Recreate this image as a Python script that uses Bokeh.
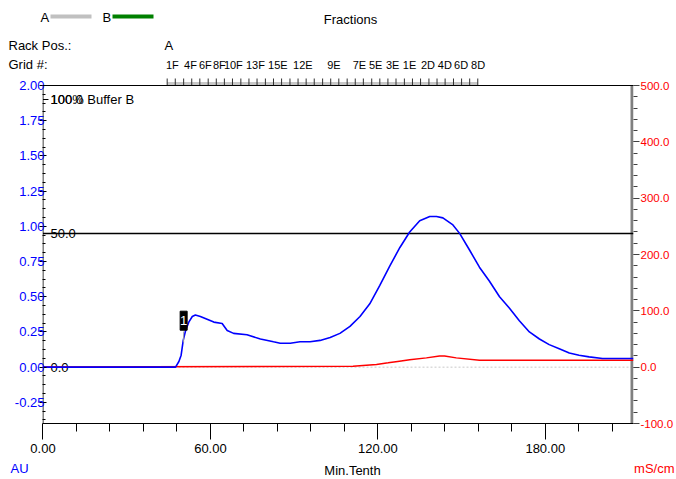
from bokeh.plotting import figure
from bokeh.layouts import column
from bokeh.models import Range1d, LinearAxis, FixedTicker, Span
from bokeh.core.properties import value
from bokeh.embed import file_html
from bokeh.resources import INLINE

# ---------------- data ----------------
uv_x = [0, 47.5, 48.7, 49.5, 50.25, 51.1, 52.25, 53.5, 54.6, 56.4, 58.8, 61.2, 64.2,
        66.0, 68.3, 73.1, 77.9, 82.6, 85.0, 88.6, 92.1, 95.7, 99.3, 102.9, 106.4,
        110.0, 113.6, 117.1, 120.7, 124.3, 127.9, 131.4, 135.0, 138.6, 141.0, 143.3,
        146.9, 149.3, 152.9, 156.4, 160.0, 163.6, 167.1, 170.7, 174.3, 177.9, 181.4,
        185.0, 188.6, 192.1, 195.7, 200.5, 211.6]
uv_au = [0.0, 0.0, 0.04, 0.085, 0.19, 0.26, 0.32, 0.36, 0.37, 0.36, 0.34, 0.32, 0.31,
         0.26, 0.24, 0.23, 0.20, 0.18, 0.17, 0.17, 0.18, 0.18, 0.19, 0.21, 0.24,
         0.29, 0.36, 0.45, 0.58, 0.72, 0.85, 0.96, 1.04, 1.07, 1.07, 1.06,
         1.01, 0.95, 0.83, 0.71, 0.61, 0.50, 0.42, 0.33, 0.25, 0.20, 0.16,
         0.13, 0.10, 0.085, 0.073, 0.062, 0.062]

cond_x = [0, 111.1, 119.5, 123.7, 127.1, 131.4, 137.4, 142.1, 143.9, 148.1, 156.4, 211.6]
cond_ms = [0.5, 1.8, 4.8, 7.7, 10.1, 13.0, 16.5, 20.0, 20.0, 16.5, 12.4, 12.4]

conc_x = [0, 211.6]
conc_b = [50, 50]

frac_bounds = [44.5, 47.4, 50.4, 53.3, 56.2, 59.2, 62.1, 65.0, 67.9, 70.9, 73.8, 76.7,
               79.7, 82.6, 85.5, 88.5, 91.4, 94.3, 97.2, 100.2, 103.1, 106.0, 109.0,
               111.9, 114.8, 117.8, 120.7, 123.6, 126.5, 129.5, 132.4, 135.3, 138.3,
               141.2, 144.1, 147.1, 150.0, 152.9, 155.8]
frac_label_x = [43.9, 50.4, 55.7, 60.7, 64.6, 72.5, 80.4, 89.3, 101.5, 110.6, 116.4,
                122.5, 128.5, 135.0, 141.0, 146.8, 152.9]
frac_labels = ["1F", "4F", "6F", "8F", "10F", "13F", "15E", "12E", "9E", "7E", "5E",
               "3E", "1E", "2D", "4D", "6D", "8D"]

peak_x = [50.4]
peak_au = [0.33]
peak_labels = ["1"]

x_ticks = [0, 60, 120, 180]
x_tick_labels = ["0.00", "60.00", "120.00", "180.00"]
left_ticks = [-0.25, 0.0, 0.25, 0.5, 0.75, 1.0, 1.25, 1.5, 1.75, 2.0]
left_tick_labels = ["-0.25", "0.00", "0.25", "0.50", "0.75", "1.00", "1.25", "1.50", "1.75", "2.00"]
right_ticks = [-100, 0, 100, 200, 300, 400, 500]
right_tick_labels = ["-100.0", "0.0", "100.0", "200.0", "300.0", "400.0", "500.0"]
conc_ticks = [0, 50, 100]
conc_tick_labels = ["0.0", "50.0", "100.0"]

# ---------------- layout ----------------
FONT = "Liberation Sans"
FS = "13px"
W = 676
TOP_H, MAIN_H, BOT_H = 72, 388, 19
FRAME_L, FRAME_R = 42, 635          # page px of main frame
FRAME_T, FRAME_B = 75, 423
PXX = 2.8                            # px per x unit
XS = -0.5 / PXX                      # x at page 42
XE = XS + (FRAME_R - FRAME_L) / PXX  # x at page 635
PXY = 338 / 2.4                      # px per AU (2.0 at page 85, -0.4 at 423)
CPX = 338 / 600.0                    # px per mS/cm
KPX = 2.68                           # px per %B (0 at 367, 100 at 99)


def X(px):      # page x -> data x
    return (px - 42.5) / PXX


def Y(py):      # page y -> AU
    return 2.0 - (py - 85) / PXY


def clean(f):
    f.outline_line_color = None
    f.xgrid.grid_line_color = None
    f.ygrid.grid_line_color = None
    f.background_fill_color = "white"
    f.border_fill_color = "white"


# ---------- top strip (page y 0..72, y data = page px) ----------
top = figure(width=W, height=TOP_H, output_backend="svg", toolbar_location=None,
             x_range=Range1d(X(0), X(W)), y_range=Range1d(TOP_H, 0),
             x_axis_location=None, y_axis_location=None, min_border=0,
             frame_align=False)
clean(top)


def ttext(f, px, py, text, color="black", align="left", size=FS):
    f.text(x=[X(px)], y=[py], text=[text], text_font=value(FONT), text_font_size=size,
           text_color=color, text_align=align, text_baseline="middle")


top.segment(x0=[X(50)], y0=[16], x1=[X(91)], y1=[16], line_color="#c0c0c0", line_width=4)
top.segment(x0=[X(112)], y0=[16], x1=[X(153)], y1=[16], line_color="#008000", line_width=4)
ttext(top, 40, 17, "A")
ttext(top, 102, 17, "B")
ttext(top, 350, 19, "Fractions", align="center")
ttext(top, 8, 45, "Rack Pos.:")
ttext(top, 164, 45, "A")
ttext(top, 8, 64, "Grid #:")
top.text(x=frac_label_x, y=[64] * len(frac_label_x), text=frac_labels,
         text_font=value(FONT), text_font_size="11px", text_color="black",
         text_align="left", text_baseline="middle")

# ---------- main chart ----------
p = figure(width=W, height=MAIN_H, output_backend="svg", toolbar_location=None,
           x_range=Range1d(XS, XE), y_range=Range1d(-0.4, Y(FRAME_T)),
           x_axis_location=None, y_axis_location=None,
           min_border_left=FRAME_L, min_border_right=W - FRAME_R,
           min_border_top=FRAME_T - TOP_H, min_border_bottom=TOP_H + MAIN_H - FRAME_B,
           frame_align=False)
clean(p)
p.extra_y_ranges = {
    "cond": Range1d(-100, 500 + (85 - FRAME_T) / CPX),
    "conc": Range1d(-(FRAME_B - 367) / KPX, 100 + (99 - FRAME_T) / KPX),
}

xa = LinearAxis(ticker=FixedTicker(ticks=x_ticks,
                                   minor_ticks=[12, 24, 36, 48, 72, 84, 96, 108, 132, 144, 156, 168, 192, 204]),
                major_label_overrides={t: l for t, l in zip(x_ticks, x_tick_labels)},
                major_tick_in=0, major_tick_out=16, minor_tick_in=0, minor_tick_out=8,
                major_label_standoff=4, major_label_text_font=FONT,
                major_label_text_font_size=FS, major_label_text_color="black",
                axis_line_color="black", major_tick_line_color="black",
                minor_tick_line_color="black")
p.add_layout(xa, "below")

ya = LinearAxis(ticker=FixedTicker(ticks=left_ticks,
                                   minor_ticks=[-0.375 + 0.0625 * i for i in range(39)]),
                major_label_overrides={t: l for t, l in zip(left_ticks, left_tick_labels)},
                major_label_standoff=-5, major_label_text_font=FONT,
                major_label_text_font_size=FS, major_label_text_color="#0000ff",
                axis_line_color=None,
                major_tick_in=4, major_tick_out=3, minor_tick_in=3, minor_tick_out=0,
                major_tick_line_color="black", minor_tick_line_color="black")
p.add_layout(ya, "left")

ra = LinearAxis(y_range_name="cond",
                ticker=FixedTicker(ticks=right_ticks,
                                   minor_ticks=[-100 + 20 * i for i in range(31)]),
                major_label_overrides={t: l for t, l in zip(right_ticks, right_tick_labels)},
                major_label_standoff=1, major_label_text_font=FONT,
                major_label_text_font_size="11.5px", major_label_text_color="#ff0000",
                axis_line_color=None,
                major_tick_in=0, major_tick_out=6, minor_tick_in=0, minor_tick_out=4,
                major_tick_line_color="#404040", minor_tick_line_color="#404040")
p.add_layout(ra, "right")

# frame lines
p.segment(x0=[0], y0=[-0.4], x1=[0], y1=[2.0], line_color="black", line_width=1)
p.segment(x0=[XE - 1.5 / PXX], y0=[-0.4], x1=[XE - 1.5 / PXX], y1=[2.0],
          line_color="#808080", line_width=3)
p.add_layout(Span(location=2.0, dimension="width", line_color="black", line_width=1))
p.add_layout(Span(location=0.0, dimension="width", line_color="#c8c8c8",
                  line_width=1, line_dash="2 2", level="underlay"))

# fractions bar
p.quad(left=[frac_bounds[0]], right=[frac_bounds[-1]], bottom=[Y(85)], top=[Y(81.5)],
       fill_color="#c8c8c8", line_color=None)
p.segment(x0=frac_bounds, y0=[Y(78)] * len(frac_bounds), x1=frac_bounds,
          y1=[Y(85)] * len(frac_bounds), line_color="#303030", line_width=1)

# %B scale
p.segment(x0=[0] * len(conc_ticks), y0=conc_ticks, x1=[X(48)] * len(conc_ticks),
          y1=conc_ticks, y_range_name="conc", line_color="black", line_width=1)
p.text(x=[X(50)] * len(conc_ticks), y=conc_ticks, text=conc_tick_labels,
       y_range_name="conc", text_font=value(FONT), text_font_size=FS,
       text_color="black", text_align="left", text_baseline="middle")
p.text(x=[X(50)], y=[100], text=["100% Buffer B"], y_range_name="conc",
       text_font=value(FONT), text_font_size=FS, text_color="black",
       text_align="left", text_baseline="middle")

# curves
p.line(conc_x, conc_b, y_range_name="conc", line_color="black", line_width=1.5)
p.line(cond_x, cond_ms, y_range_name="cond", line_color="#ff0000", line_width=1.5)
p.line(uv_x, uv_au, line_color="#0000ff", line_width=1.6)

# peak marker
p.segment(x0=peak_x, y0=[Y(331)], x1=peak_x, y1=[Y(342)], line_color="#a0a0a0", line_width=1)
p.rect(x=peak_x, y=peak_au, width=7, height=19, width_units="screen",
       height_units="screen", fill_color="black", line_color="black")
p.text(x=peak_x, y=peak_au, text=peak_labels, text_color="white",
       text_font=value(FONT), text_font_size="13px", text_align="center",
       text_baseline="middle")

# ---------- bottom strip (page y 460..479) ----------
bot = figure(width=W, height=BOT_H, output_backend="svg", toolbar_location=None,
             x_range=Range1d(X(0), X(W)),
             y_range=Range1d(TOP_H + MAIN_H + BOT_H, TOP_H + MAIN_H),
             x_axis_location=None, y_axis_location=None, min_border=0,
             frame_align=False)
clean(bot)
ttext(bot, 10, 468, "AU", color="#0000ff")
ttext(bot, 352, 470, "Min.Tenth", align="center")
ttext(bot, 674, 468, "mS/cm", color="#ff0000", align="right")

layout = column(top, p, bot, spacing=0)
open("out.html", "w").write(file_html(layout, INLINE))
